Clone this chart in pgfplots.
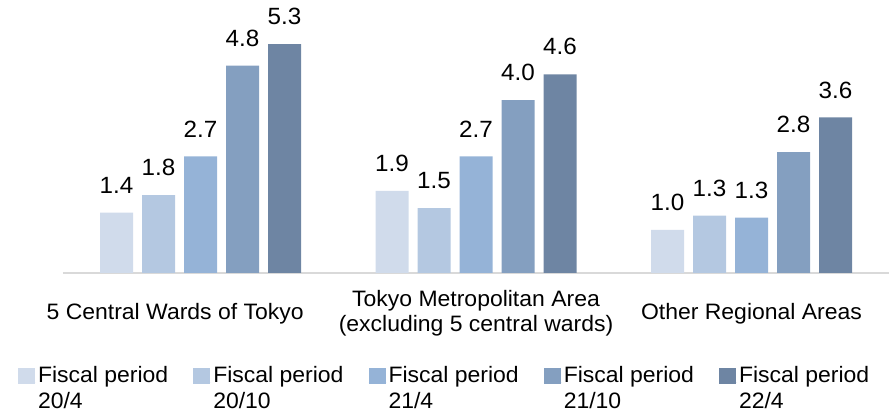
\documentclass[border=0pt]{standalone}
\usepackage{fontspec}
\setmainfont[FakeStretch=1.03]{Liberation Sans}
\usepackage{pgfplots}
\pgfplotsset{compat=1.18}
\definecolor{cA}{HTML}{D0DBEB}
\definecolor{cB}{HTML}{B4C8E1}
\definecolor{cC}{HTML}{95B3D7}
\definecolor{cD}{HTML}{849FC0}
\definecolor{cE}{HTML}{6E85A3}
\definecolor{lgray}{HTML}{D9D9D9}
\begin{document}
\begin{tikzpicture}
\useasboundingbox (0,0) rectangle (893pt,414pt);
\begin{axis}[
  at={(62.75pt,141pt)}, anchor=south west,
  scale only axis, width=826.5pt, height=259.2pt,
  xmin=-0.5, xmax=2.5, ymin=0, ymax=6,
  ybar=9pt, bar width=33pt,
  axis y line=none, axis x line=bottom,
  x axis line style={-, draw=lgray, line width=2pt},
  xtick={-0.092,1,2},
  xticklabels={5 Central Wards of Tokyo, {Tokyo Metropolitan Area\\(excluding 5 central wards)}, Other Regional Areas},
  major tick length=0pt,
  xticklabel style={anchor=center, yshift=-40.5pt, align=center, inner sep=0pt, font=\fontsize{22.3}{25}\selectfont},
  ytick=\empty,
  /pgf/number format/assume math mode=true,
  nodes near coords={\pgfmathprintnumber[fixed,zerofill,precision=1]{\pgfplotspointmeta}},
  every node near coord/.append style={anchor=south, inner sep=0pt, yshift=19pt, font=\fontsize{23.5}{26}\selectfont, text=black},
  legend columns=5,
  legend style={at={(axis description cs:-0.05414,-0.3526)}, anchor=north west, draw=none, fill=none, inner sep=0pt, outer sep=0pt, column sep=0pt, row sep=0pt,
    cells={anchor=base west, inner sep=0pt, outer sep=0pt, font=\fontsize{22.3}{25.6}\selectfont}},
  legend image code/.code={\fill[#1] (0pt,-1pt) rectangle (17pt,15pt); \path (0pt,0pt) -- (18pt,0pt);},
]
\addplot[fill=cA, draw=none] coordinates {(0,1.4) (1,1.9) (2,1.0)};
\addlegendentry{\parbox[t]{153.25pt}{Fiscal period\\20/4}}
\addplot[fill=cB, draw=none] coordinates {(0,1.8) (1,1.5) (2,1.33)};
\addlegendentry{\parbox[t]{153.25pt}{Fiscal period\\20/10}}
\addplot[fill=cC, draw=none] coordinates {(0,2.7) (1,2.7) (2,1.28)};
\addlegendentry{\parbox[t]{153.25pt}{Fiscal period\\21/4}}
\addplot[fill=cD, draw=none] coordinates {(0,4.8) (1,4.0) (2,2.8)};
\addlegendentry{\parbox[t]{153.25pt}{Fiscal period\\21/10}}
\addplot[fill=cE, draw=none] coordinates {(0,5.3) (1,4.6) (2,3.6)};
\addlegendentry{\parbox[t]{153.25pt}{Fiscal period\\22/4}}
\end{axis}
\end{tikzpicture}
\end{document}
